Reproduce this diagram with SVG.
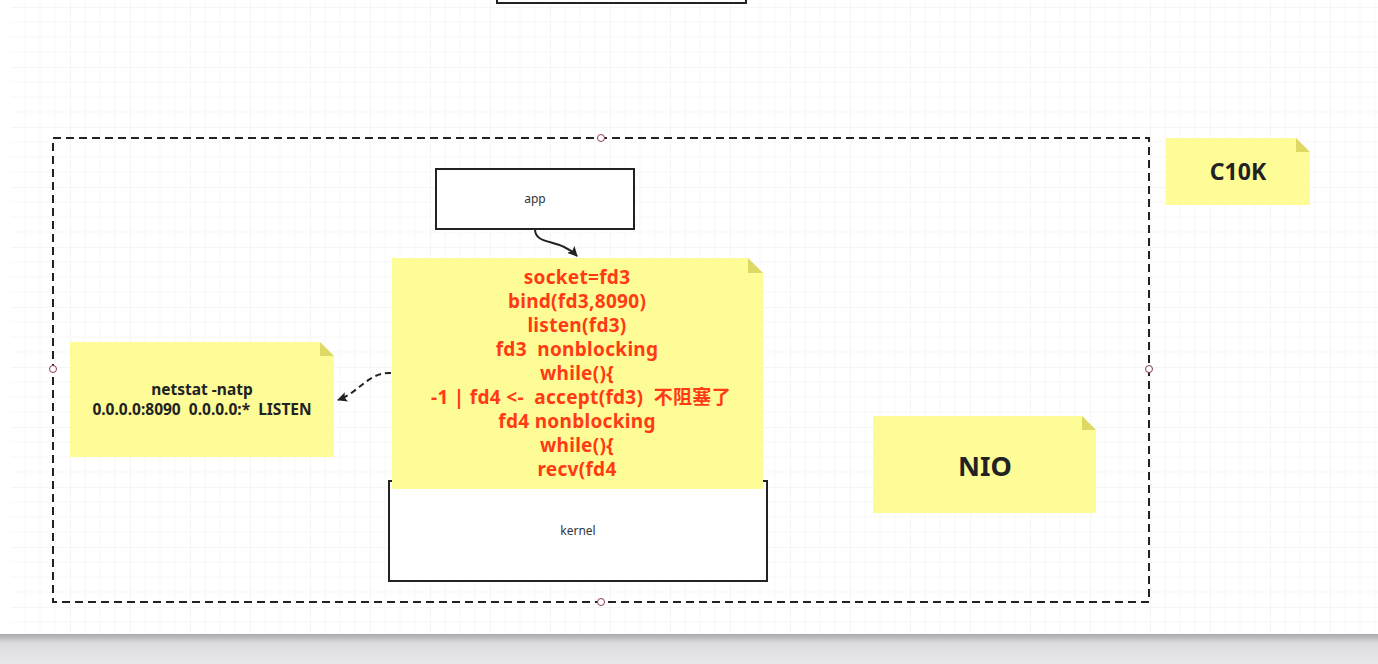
<svg xmlns="http://www.w3.org/2000/svg" width="1378" height="664" viewBox="0 0 1378 664">
<defs>
<pattern id="grid" x="10" y="7" width="60" height="60" patternUnits="userSpaceOnUse">
<path d="M0 0H60M0 0V60" fill="none" stroke="#ececec" stroke-width="1"/>
<path d="M0 15H60M0 30H60M0 45H60M15 0V60M30 0V60M45 0V60" fill="none" stroke="#f7f7f7" stroke-width="1"/>
</pattern>
<linearGradient id="shade" x1="0" y1="0" x2="0" y2="1">
<stop offset="0" stop-color="#a8a8ac"/>
<stop offset="0.3" stop-color="#dcdce0"/>
<stop offset="1" stop-color="#e8e8ec"/>
</linearGradient>
<marker id="arr" viewBox="0 0 10 10" refX="9" refY="5" markerWidth="10" markerHeight="10" markerUnits="userSpaceOnUse" orient="auto">
<path d="M0 0L10 5L0 10L2 5Z" fill="#222"/>
</marker>
<style>
.box{fill:#fff;stroke:#222;stroke-width:2}
.note{fill:#fefc96}
.fold{fill:#ded865}
.lbl{font-family:"Noto Sans","Noto Sans CJK SC",sans-serif;font-size:12px;fill:#333;text-anchor:middle}
.red{font-family:"Noto Sans","Noto Sans CJK SC",sans-serif;font-size:19px;letter-spacing:0.3px;font-weight:bold;fill:#ff3a14;text-anchor:middle;white-space:pre}
.dark{font-family:"Noto Sans","Noto Sans CJK SC",sans-serif;font-weight:bold;fill:#222;text-anchor:middle;white-space:pre}
.handle{fill:#fff;stroke:#8a3a4a;stroke-width:1}
</style>
</defs>
<rect width="1378" height="664" fill="#fff"/>
<rect x="11" y="0" width="1367" height="634" fill="url(#grid)"/>
<rect x="0" y="634" width="1378" height="30" fill="url(#shade)"/>

<g id="topbox"><rect class="box" x="497" y="-10" width="249" height="13"/></g>

<g id="container">
<rect x="53" y="138" width="1096" height="464" fill="none" stroke="#222" stroke-width="2" stroke-dasharray="8 5"/>
<circle class="handle" cx="601" cy="138" r="3.5"/>
<circle class="handle" cx="53" cy="369" r="3.5"/>
<circle class="handle" cx="1149" cy="369" r="3.5"/>
<circle class="handle" cx="601" cy="602" r="3.5"/>
</g>

<g id="app">
<rect class="box" x="436" y="169" width="198" height="60"/>
<text class="lbl" x="535" y="203">app</text>
</g>

<g id="kernel">
<rect class="box" x="389" y="481" width="378" height="100"/>
<text class="lbl" x="578" y="535">kernel</text>
</g>

<g id="code">
<path class="note" d="M392 258H748L763 273V489H392Z"/>
<path class="fold" d="M748 258L763 273H748Z"/>
<text class="red" x="577" y="284">socket=fd3</text>
<text class="red" x="577" y="308">bind(fd3,8090)</text>
<text class="red" x="577" y="332">listen(fd3)</text>
<text class="red" x="577" y="356" xml:space="preserve">fd3  nonblocking</text>
<text class="red" x="577" y="380">while(){</text>
<text class="red" x="581" y="404" xml:space="preserve">-1 | fd4 &lt;-  accept(fd3)  不阻塞了</text>
<text class="red" x="577" y="428">fd4 nonblocking</text>
<text class="red" x="577" y="452">while(){</text>
<text class="red" x="577" y="476">recv(fd4</text>
</g>

<g id="netstat">
<path class="note" d="M70 342H320L334 356V457H70Z"/>
<path class="fold" d="M320 342L334 356H320Z"/>
<text class="dark" x="202" y="395" font-size="15.5">netstat -natp</text>
<text class="dark" x="202" y="415" font-size="15.5" xml:space="preserve">0.0.0.0:8090  0.0.0.0:*  LISTEN</text>
</g>

<g id="c10k">
<path class="note" d="M1166 138H1296L1310 152V205H1166Z"/>
<path class="fold" d="M1296 138L1310 152H1296Z"/>
<text class="dark" x="1238" y="180" font-size="23">C10K</text>
</g>

<g id="nio">
<path class="note" d="M873 416H1082L1096 430V513H873Z"/>
<path class="fold" d="M1082 416L1096 430H1082Z"/>
<text class="dark" x="985" y="476" font-size="27">NIO</text>
</g>

<g id="connectors">
<path d="M535 229C535 246 560 238 577 256" fill="none" stroke="#222" stroke-width="2" marker-end="url(#arr)"/>
<path d="M391 373C368 372 360 392 338 400" fill="none" stroke="#222" stroke-width="2" stroke-dasharray="6 4" marker-end="url(#arr)"/>
</g>
</svg>
